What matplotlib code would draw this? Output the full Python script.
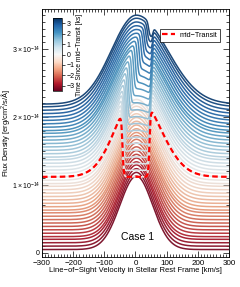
import numpy as np
import matplotlib
matplotlib.use("Agg")
from matplotlib import pyplot as plt
from matplotlib.ticker import MultipleLocator, FixedLocator, FuncFormatter
from matplotlib.colors import Normalize

plt.rcParams['font.family'] = ['Liberation Sans', 'DejaVu Sans']
plt.rcParams['mathtext.fontset'] = 'custom'
plt.rcParams['mathtext.rm'] = 'Liberation Sans'
plt.rcParams['mathtext.it'] = 'Liberation Sans:italic'
plt.rcParams['mathtext.default'] = 'regular'

# time since mid-transit of each spectrum [ks]
times = [-3.30, -3.15, -3.00, -2.85, -2.70, -2.55, -2.40, -2.25, -2.10, -1.95,
         -1.80, -1.65, -1.50, -1.35, -1.20, -1.05, -0.90, -0.75, -0.60, -0.45,
         -0.30, -0.15, 0.00, 0.15, 0.30, 0.45, 0.60, 0.75, 0.90, 1.05,
         1.20, 1.35, 1.50, 1.65, 1.80, 1.95, 2.10, 2.25, 2.40, 2.55,
         2.70, 2.85, 3.00, 3.15, 3.30]
# continuum (wing) level of each spectrum [1e-14 erg/cm2/s/A]
continuum = [0.05, 0.10, 0.15, 0.20, 0.24, 0.29, 0.34, 0.39, 0.44, 0.49,
             0.54, 0.59, 0.63, 0.68, 0.73, 0.78, 0.83, 0.88, 0.93, 0.98,
             1.02, 1.07, 1.12, 1.17, 1.22, 1.27, 1.32, 1.37, 1.41, 1.46,
             1.51, 1.56, 1.61, 1.66, 1.71, 1.76, 1.80, 1.85, 1.90, 1.95,
             2.00, 2.05, 2.10, 2.15, 2.19]
# line peak height above continuum, first and last spectrum
amp_first, amp_last = 1.08, 1.31
# line widths [km/s] (blue / red side), first and last spectrum
sig_left_first, sig_left_last = 53.0, 80.0
sig_right_first, sig_right_last = 52.0, 100.0
line_center = 3.0
# occulted part of the line for t >= 0 spectra: depth, left and right edge [km/s]
dip_depth = [1.00, 0.96, 0.92, 0.88, 0.84, 0.80, 0.76, 0.72, 0.68, 0.64, 0.60, 0.56,
             0.52, 0.48, 0.44, 0.40, 0.36, 0.32, 0.28, 0.25, 0.22, 0.19, 0.16]
dip_left = [-42, -42, -42, -41, -40, -38, -36, -33, -30, -26, -22, -17,
            -12, -6, 0, 6, 12, 18, 24, 29, 34, 38, 42]
dip_right = [45, 45, 46, 46, 47, 47, 48, 48, 49, 49, 50, 50,
             51, 51, 52, 52, 53, 53, 54, 54, 55, 55, 56]
flux_ticks = [0, 1e-14, 2e-14, 3e-14]
time_ticks = [-3, -2, -1, 0, 1, 2, 3]

vel = np.linspace(-300, 300, 601)
n = len(times)
amps = np.linspace(amp_first, amp_last, n)
sls = np.linspace(sig_left_first, sig_left_last, n)
srs = np.linspace(sig_right_first, sig_right_last, n)


def spectrum(i):
    s = np.where(vel < line_center, sls[i], srs[i])
    g = np.exp(-0.5 * ((vel - line_center) / s) ** 2)
    k = i - times.index(0.0)
    if k >= 0:
        w = 1 / (1 + np.exp(-(vel - dip_left[k]) / 2.0)) / (1 + np.exp(-(dip_right[k] - vel) / 2.0))
        g = g * (1 - dip_depth[k] * w)
    return (continuum[i] + amps[i] * g) * 1e-14


fig = plt.figure(figsize=(2.4, 2.87), dpi=100)
ax = fig.add_axes([0.175, 0.1045, 0.779, 0.864])
cmap = plt.cm.RdBu
norm = Normalize(-3.5, 3.5)
for i, t in enumerate(times):
    c = np.array(cmap(norm(t))[:3]) * 0.88 + 0.12 * 0.55
    ax.plot(vel, spectrum(i), color=c, lw=1.1)
mid, = ax.plot(vel, spectrum(times.index(0.0)), color='red', lw=1.6, ls=(0, (2.5, 1.5)),
               label='mid\u2212Transit')

ax.set_xlim(-300, 300)
ax.set_ylim(-0.06e-14, 3.59e-14)
ax.xaxis.set_major_locator(FixedLocator([-300, -200, -100, 0, 100, 200, 300]))
ax.xaxis.set_minor_locator(MultipleLocator(10))
ax.yaxis.set_major_locator(FixedLocator(flux_ticks))
ax.yaxis.set_minor_locator(MultipleLocator(0.1e-14))


def yfmt(y, pos):
    k = int(round(y / 1e-14))
    if k == 0:
        return '0'
    return r'$%d\times10^{-14}$' % k


ax.yaxis.set_major_formatter(FuncFormatter(yfmt))
ax.tick_params(which='both', direction='in', top=True, right=True, width=0.5, pad=2)
ax.tick_params(axis='x', labelsize=5.8)
ax.tick_params(axis='y', labelsize=5.0, pad=1.5)
ax.tick_params(which='major', length=4)
ax.tick_params(which='minor', length=2)
for sp in ax.spines.values():
    sp.set_linewidth(0.6)
ax.set_xlabel('Line\u2212of\u2212Sight Velocity in Stellar Rest Frame [km/s]', fontsize=5.5, labelpad=0.5)
ax.set_ylabel('Flux Density [erg/cm$^2$/s/\u00c5]', fontsize=5.4)
ax.yaxis.set_label_coords(-0.158, 0.5)
ax.text(8, 0.24e-14, 'Case 1', fontsize=7.5, ha='center', va='center')

leg = ax.legend(handles=[mid], loc='upper right', bbox_to_anchor=(0.97, 0.935), fontsize=5.2,
                fancybox=False, edgecolor='black', handlelength=1.8, borderpad=0.4,
                handletextpad=0.5, framealpha=1)
leg.get_frame().set_linewidth(0.5)

cax = fig.add_axes([0.221, 0.683, 0.037, 0.254])
sm = plt.cm.ScalarMappable(norm=norm, cmap=cmap)
cb = fig.colorbar(sm, cax=cax, ticks=time_ticks)
cb.outline.set_linewidth(0.5)
cax.tick_params(labelsize=5, length=2, width=0.5, pad=1.5)
cb.set_label('Time Since mid\u2212Transit [ks]', fontsize=4.8, labelpad=1)

fig.savefig('out.png', dpi=100)
